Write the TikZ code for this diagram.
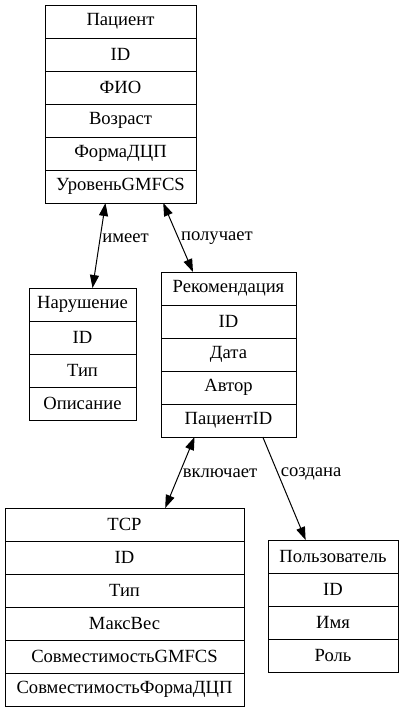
\documentclass[tikz,border=0pt]{standalone}
\usepackage{fontspec}
\setmainfont{Liberation Serif}
\usetikzlibrary{positioning,fit,arrows.meta}

\tikzset{
  field/.style={draw, line width=1pt, inner sep=0pt, outer sep=0pt,
    minimum height=33pt, minimum width=#1, font=\fontsize{18.6}{20}\selectfont},
  entity/.style={inner sep=0pt, outer sep=0pt},
  rel/.style={line width=1pt, -{Triangle[length=13pt,width=9pt]}},
  birel/.style={rel, {Triangle[length=13pt,width=9pt]}-{Triangle[length=13pt,width=9pt]}},
  lbl/.style={inner sep=0pt, font=\fontsize{18.6}{20}\selectfont},
}

\begin{document}
\begin{tikzpicture}[x=1pt, y=-1pt, node distance=0pt]
  \useasboundingbox (0,0) rectangle (403,710);

  % Nodes
  \node[field=151pt] (pat1) at (120.5,21.5) {Пациент};
  \node[field=151pt, below=of pat1] (pat2) {ID};
  \node[field=151pt, below=of pat2] (pat3) {ФИО};
  \node[field=151pt, below=of pat3] (pat4) {Возраст};
  \node[field=151pt, below=of pat4] (pat5) {ФормаДЦП};
  \node[field=151pt, below=of pat5] (pat6) {УровеньGMFCS};
  \node[entity, fit=(pat1)(pat6)] (pat) {};

  \node[field=107pt] (nar1) at (82.5,304.5) {Нарушение};
  \node[field=107pt, below=of nar1] (nar2) {ID};
  \node[field=107pt, below=of nar2] (nar3) {Тип};
  \node[field=107pt, below=of nar3] (nar4) {Описание};
  \node[entity, fit=(nar1)(nar4)] (nar) {};

  \node[field=135pt] (rec1) at (228.5,288.5) {Рекомендация};
  \node[field=135pt, below=of rec1] (rec2) {ID};
  \node[field=135pt, below=of rec2] (rec3) {Дата};
  \node[field=135pt, below=of rec3] (rec4) {Автор};
  \node[field=135pt, below=of rec4] (rec5) {ПациентID};
  \node[entity, fit=(rec1)(rec5)] (rec) {};

  \node[field=239pt] (tcp1) at (124.5,524.5) {TCP};
  \node[field=239pt, below=of tcp1] (tcp2) {ID};
  \node[field=239pt, below=of tcp2] (tcp3) {Тип};
  \node[field=239pt, below=of tcp3] (tcp4) {МаксВес};
  \node[field=239pt, below=of tcp4] (tcp5) {СовместимостьGMFCS};
  \node[field=239pt, below=of tcp5] (tcp6) {СовместимостьФормаДЦП};
  \node[entity, fit=(tcp1)(tcp6)] (tcp) {};

  \node[field=130pt] (usr1) at (333,556.5) {Пользователь};
  \node[field=130pt, below=of usr1] (usr2) {ID};
  \node[field=130pt, below=of usr2] (usr3) {Имя};
  \node[field=130pt, below=of usr3] (usr4) {Роль};
  \node[entity, fit=(usr1)(usr4)] (usr) {};

  % Edges
  \draw[birel] (pat) -- (nar);
  \draw[birel] (pat) -- (rec);
  \draw[birel] (rec) -- (tcp);
  \draw[rel] (rec) -- (usr);

  % Labels
  \node[lbl] (imeet) at (125.5,238) {имеет};
  \node[lbl] (poluchaet) at (217,238) {получает};
  \node[lbl] (vklyuchaet) at (220,473) {включает};
  \node[lbl] (sozdana) at (311,474) {создана};
\end{tikzpicture}
\end{document}
